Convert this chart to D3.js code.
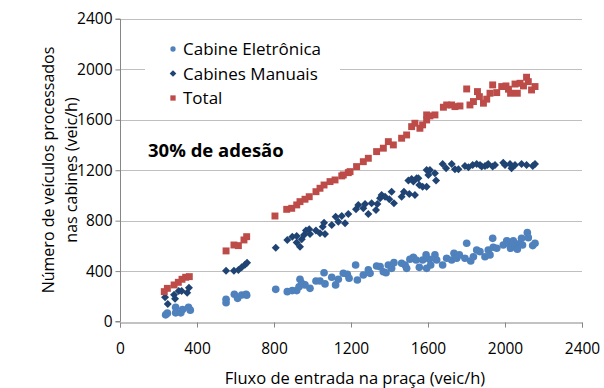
<!DOCTYPE html>
<html><head><meta charset="utf-8">
<script src="https://cdn.jsdelivr.net/npm/d3@7"></script>
<style>body{margin:0;background:#fff}svg{display:block}text{font-family:"Open Sans",sans-serif}</style>
</head><body><div id="chart"></div>
<script>
const xTicks=[0,400,800,1200,1600,2000,2400];
const yTicks=[0,400,800,1200,1600,2000,2400];
const seriesNames=["Cabine Eletrônica","Cabines Manuais","Total"];
const annotation="30% de adesão";
const xTitle="Fluxo de entrada na praça (veic/h)";
const yTitle=["Número de veículos processados","nas cabines (veic/h)"];

const eletronica=[[237,53],[246,66],[289,113],[289,69],[316,69],[325,95],[356,113],[365,90],
[551,149],[551,176],[594,216],[611,184],[632,210],[655,216],[658,208],
[809,255],[869,237],[895,245],[918,245],[930,276],[935,335],[944,303],[961,290],[987,263],[1018,321],[1039,321],[1060,387],[1065,298],[1100,351],[1120,290],[1134,335],[1160,383],[1181,375],[1190,343],
[1224,448],[1233,329],[1264,369],[1290,409],[1299,382],[1333,440],[1351,435],[1368,395],[1382,387],[1394,448],[1411,422],[1423,467],[1463,462],[1481,448],[1489,422],[1506,494],[1524,510],[1538,488],[1555,430],[1572,488],[1590,528],[1593,422],[1607,494],[1614,448],[1636,528],[1645,488],[1676,448],[1697,502],[1723,488],[1735,541],[1749,502],[1763,528],[1792,502],[1801,621],[1822,480],[1836,514],[1853,567],[1870,554],[1896,514],[1913,567],[1922,528],[1936,660],[1939,589],[1957,581],[1991,607],[2009,641],[2026,607],[2029,581],[2043,641],[2052,607],[2064,573],[2078,621],[2086,660],[2091,607],[2116,705],[2121,665],[2144,602],[2156,621]];

const manuais=[[234,192],[248,139],[281,213],[286,181],[305,242],[320,242],[349,229],[358,268],
[551,403],[592,403],[615,409],[632,430],[649,451],[660,467],
[809,586],[869,647],[895,673],[918,679],[918,626],[935,594],[944,652],[956,687],[966,721],[983,732],[987,694],[1018,721],[1039,700],[1053,752],[1060,784],[1065,694],[1100,766],[1120,832],[1134,792],[1152,837],[1169,779],[1186,853],
[1226,890],[1238,925],[1264,898],[1273,932],[1290,853],[1307,938],[1330,885],[1337,932],[1351,978],[1359,1004],[1377,990],[1399,970],[1411,1030],[1423,938],[1463,990],[1475,1030],[1498,1118],[1503,1012],[1515,1131],[1524,1110],[1532,1004],[1541,1136],[1550,1136],[1555,1083],[1572,1070],[1593,1070],[1593,1202],[1602,1163],[1610,1202],[1636,1176],[1642,1118],[1676,1250],[1694,1216],[1723,1250],[1740,1208],[1758,1208],[1792,1234],[1810,1224],[1832,1242],[1853,1250],[1870,1242],[1879,1229],[1896,1234],[1908,1242],[1913,1250],[1936,1229],[1948,1242],[1991,1260],[2000,1242],[2026,1250],[2034,1216],[2052,1242],[2086,1250],[2112,1242],[2144,1234],[2156,1250]];

const total=[[230,237],[246,263],[281,290],[303,311],[322,335],[341,351],[360,356],
[551,560],[592,607],[615,602],[644,647],[658,673],
[805,837],[866,890],[892,898],[918,925],[935,951],[961,970],[983,990],[1018,1030],[1039,1057],[1060,1083],[1091,1110],[1117,1123],[1152,1155],[1160,1163],[1186,1181],[1195,1189],[1229,1229],[1264,1268],[1290,1295],[1333,1348],[1368,1375],[1394,1427],[1420,1401],[1463,1454],[1489,1480],[1515,1546],[1532,1573],[1558,1533],[1572,1560],[1593,1599],[1593,1639],[1610,1631],[1636,1639],[1680,1700],[1697,1718],[1723,1718],[1740,1705],[1766,1710],[1801,1845],[1818,1718],[1836,1745],[1857,1824],[1867,1784],[1888,1732],[1905,1764],[1922,1811],[1936,1877],[1957,1816],[1983,1864],[2005,1869],[2018,1843],[2029,1811],[2052,1884],[2064,1811],[2078,1890],[2096,1869],[2112,1938],[2121,1903],[2138,1837],[2156,1864]];

const W=604,H=388;
const svg=d3.select("#chart").append("svg").attr("width",W).attr("height",H);
const x=d3.scaleLinear().domain([0,2400]).range([120,582]);
const y=d3.scaleLinear().domain([0,2400]).range([321.5,19]);

// gridlines
svg.append("g").selectAll("line").data(yTicks.filter(d=>d>0)).join("line")
 .attr("x1",x(0)).attr("x2",x(2400)).attr("y1",d=>Math.round(y(d))+0.5).attr("y2",d=>Math.round(y(d))+0.5)
 .attr("stroke","#bfbfbf").attr("stroke-width",1);

// axes
const xAxis=d3.axisBottom(x).tickValues(xTicks).tickFormat(d3.format("d")).tickSize(5).tickPadding(15);
const gx=svg.append("g").attr("transform",`translate(0,${Math.round(y(0))+0.5})`).call(xAxis);
const yAxis=d3.axisLeft(y).tickValues(yTicks).tickFormat(d3.format("d")).tickSize(5).tickPadding(3);
const gy=svg.append("g").attr("transform",`translate(${x(0)+0.5},0)`).call(yAxis);
[gx,gy].forEach(g=>{
 g.select(".domain").attr("stroke","#868686");
 g.selectAll(".tick line").attr("stroke","#868686");
 g.selectAll(".tick text").attr("fill","#000").style("font-size","15.5px").style("font-family",'"Open Sans",sans-serif');
});
gy.select(".domain").attr("d",`M-5,${y(2400)}H0V${y(0)}H-5`);

// legend box (white, covering grid)
svg.append("rect").attr("x",145).attr("y",32).attr("width",195).attr("height",76).attr("fill","#fff");

const colE="#4f81bd",colM="#1f4372",colT="#bd4b48";
function plot(data,sym,col,rot){
 svg.append("g").selectAll("path").data(data).join("path")
  .attr("transform",d=>`translate(${x(d[0])},${y(d[1])})${rot?" rotate(45)":""}`)
  .attr("d",sym).attr("fill",col);
}
plot(eletronica,d3.symbol().type(d3.symbolCircle).size(46),colE,false);
plot(manuais,d3.symbol().type(d3.symbolSquare).size(32),colM,true);
plot(total,d3.symbol().type(d3.symbolSquare).size(48),colT,false);

// legend
const legSyms=[[d3.symbol().type(d3.symbolCircle).size(22),colE,false],[d3.symbol().type(d3.symbolSquare).size(22),colM,true],[d3.symbol().type(d3.symbolSquare).size(28),colT,false]];
seriesNames.forEach((n,i)=>{
 const cy=49+i*24.5;
 svg.append("path").attr("d",legSyms[i][0]).attr("fill",legSyms[i][1])
  .attr("transform",`translate(173,${cy})${legSyms[i][2]?" rotate(45)":""}`);
 svg.append("text").attr("x",183).attr("y",cy+6).text(n).style("font-size","17px").attr("fill","#000");
});

// annotation
svg.append("text").attr("x",148).attr("y",157).text(annotation).style("font-size","18.5px").style("font-weight","bold");

// titles
svg.append("text").attr("x",355).attr("y",384).attr("text-anchor","middle").text(xTitle).style("font-size","16.5px");
yTitle.forEach((t,i)=>{
 svg.append("text").attr("transform",`translate(${54+i*23},170) rotate(-90)`).attr("text-anchor","middle").text(t).style("font-size","16px");
});
</script>
</body></html>
